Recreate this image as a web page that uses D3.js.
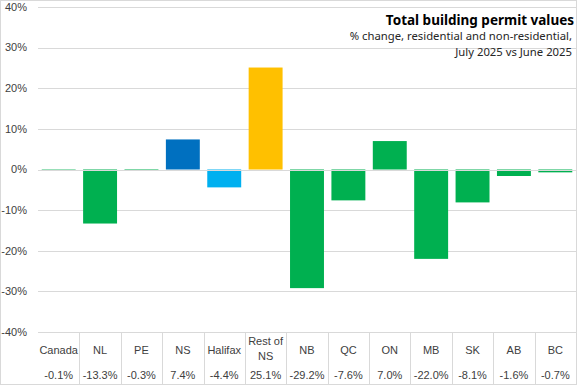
<!DOCTYPE html>
<html><head><meta charset="utf-8">
<script src="https://cdn.jsdelivr.net/npm/d3@7"></script>
<style>body{margin:0;background:#fff}svg{display:block}</style>
</head><body><div id="chart"></div>
<script>
const categories = ["Canada","NL","PE","NS","Halifax","Rest of NS","NB","QC","ON","MB","SK","AB","BC"];
const values = [-0.1,-13.3,-0.3,7.4,-4.4,25.1,-29.2,-7.6,7.0,-22.0,-8.1,-1.6,-0.7];
const valueLabels = ["-0.1%","-13.3%","-0.3%","7.4%","-4.4%","25.1%","-29.2%","-7.6%","7.0%","-22.0%","-8.1%","-1.6%","-0.7%"];
const colors = ["#00B050","#00B050","#00B050","#0070C0","#00B0F0","#FFC000","#00B050","#00B050","#00B050","#00B050","#00B050","#00B050","#00B050"];
const yTicks = [40,30,20,10,0,-10,-20,-30,-40];
const titleText = "Total building permit values";
const subtitleLines = ["% change, residential and non-residential,","July 2025 vs June 2025"];

const W = 577, H = 385;
const margin = {left: 38, right: 1, top: 7, bottom: 53};
const svg = d3.select("#chart").append("svg").attr("width", W).attr("height", H);
svg.append("rect").attr("x",0.5).attr("y",0.5).attr("width",W-1).attr("height",H-1)
  .attr("fill","#fff").attr("stroke","#d9d9d9");

const x = d3.scaleBand().domain(categories).range([margin.left, W - margin.right]).paddingInner(0.18).paddingOuter(0.09);
const y = d3.scaleLinear().domain([-40, 40]).range([H - margin.bottom, margin.top]);

// gridlines
svg.append("g").selectAll("line").data(yTicks).join("line")
  .attr("x1", margin.left).attr("x2", W - margin.right)
  .attr("y1", d => Math.round(y(d)) + 0.5).attr("y2", d => Math.round(y(d)) + 0.5)
  .attr("stroke", "#d9d9d9").attr("stroke-width", 1);

// y labels
svg.append("g").selectAll("text").data(yTicks).join("text")
  .attr("x", 27).attr("y", d => y(d)).attr("dy", "0.35em")
  .attr("text-anchor", "end").attr("font-family", "Liberation Sans, Arial, sans-serif")
  .attr("font-size", 11).attr("fill", "#404040")
  .text(d => d + "%");

// bars
svg.append("g").selectAll("rect").data(categories).join("rect")
  .attr("x", d => x(d)).attr("width", x.bandwidth())
  .attr("y", (d,i) => y(Math.max(0, values[i])))
  .attr("height", (d,i) => Math.abs(y(values[i]) - y(0)))
  .attr("fill", (d,i) => colors[i]);

// zero line over bars
svg.append("line").attr("x1", margin.left).attr("x2", W - margin.right)
  .attr("y1", Math.round(y(0)) + 0.5).attr("y2", Math.round(y(0)) + 0.5)
  .attr("stroke", "#d9d9d9");

// table
const step = x.step();
const x0 = margin.left;
const tableTop = y(-40);
const tg = svg.append("g");
tg.selectAll("line").data(d3.range(1, categories.length)).join("line")
  .attr("x1", i => Math.round(x0 + i*step) + 0.5).attr("x2", i => Math.round(x0 + i*step) + 0.5)
  .attr("y1", tableTop).attr("y2", H)
  .attr("stroke", "#d9d9d9");
const font = "Liberation Sans, Arial, sans-serif";
categories.forEach((c, i) => {
  const cx = x0 + (i + 0.5) * step;
  const t = tg.append("text").attr("x", cx).attr("text-anchor", "middle")
    .attr("font-family", font).attr("font-size", 11).attr("fill", "#404040");
  if (c === "Rest of NS") {
    t.append("tspan").attr("x", cx).attr("y", 345).text("Rest of");
    t.append("tspan").attr("x", cx).attr("y", 360).text("NS");
  } else {
    t.attr("y", 354).text(c);
  }
  tg.append("text").attr("x", cx).attr("y", 379).attr("text-anchor", "middle")
    .attr("font-family", font).attr("font-size", 11).attr("fill", "#404040")
    .text(valueLabels[i]);
});

// title
svg.append("text").attr("x", 574).attr("y", 25).attr("text-anchor", "end")
  .attr("font-family", "Noto Sans, sans-serif").attr("font-weight", "bold")
  .attr("font-size", 13.5).attr("fill", "#000").text(titleText);
subtitleLines.forEach((s, i) => {
  svg.append("text").attr("x", 572).attr("y", 40 + i*15.5).attr("text-anchor", "end")
    .attr("font-family", "Noto Sans, sans-serif")
    .attr("font-size", 11.3).attr("fill", "#262626").text(s);
});
</script></body></html>
